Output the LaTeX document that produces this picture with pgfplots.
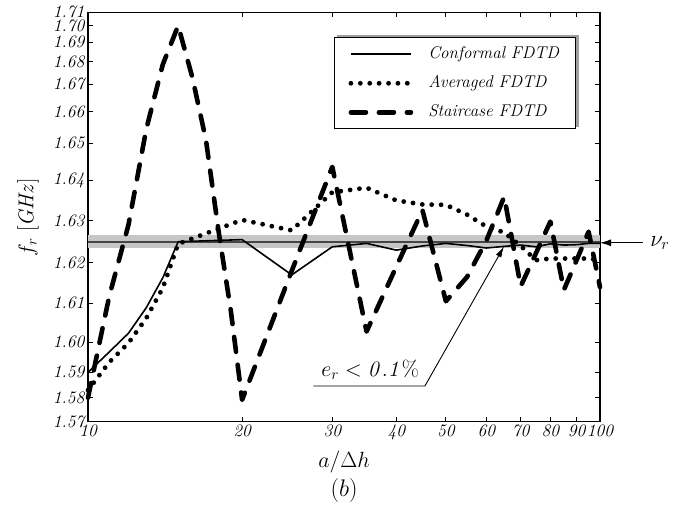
\RequirePackage{fix-cm}
\documentclass[border=0pt]{standalone}
\usepackage{pgfplots}
\pgfplotsset{compat=1.18}
\usetikzlibrary{arrows.meta}
\pgfdeclarelayer{background}
\pgfsetlayers{background,main}

% piecewise-linear y scale read from the reference tick positions
\newcommand\ytrafo[1]{%
  \begingroup
  \pgfkeys{/pgf/fpu=true,/pgf/fpu/output format=fixed}%
  \pgfmathparse{#1}\let\myV\pgfmathresult
  \pgfkeys{/pgf/fpu=false}%
  \pgfmathsetmacro\myU{(\myV-1.57)*100}%
  \pgfmathtruncatemacro\myI{min(13,max(0,floor(\myU)))}%
  \pgfmathtruncatemacro\myJ{\myI+1}%
  \pgfmathsetmacro\myA{{0,24,49.4,79.7,118.4,159,201,241.7,278.4,310,337.4,360,379.4,396,409.4}[\myI]}%
  \pgfmathsetmacro\myB{{0,24,49.4,79.7,118.4,159,201,241.7,278.4,310,337.4,360,379.4,396,409.4}[\myJ]}%
  \pgfmathsetmacro\myR{\myA+(\myU-\myI)*(\myB-\myA)}%
  \xdef\ytrafores{\myR}%
  \endgroup
  \let\pgfmathresult\ytrafores}

\begin{document}
\begin{tikzpicture}
\begin{axis}[
  scale only axis, width=512pt, height=409.4pt,
  xmode=log, xmin=10, xmax=100,
  ymin=1.57, ymax=1.71,
  y coord trafo/.code={\ytrafo{#1}},
  axis line style={line width=1.1pt},
  tick style={line width=0.9pt, black},
  major tick length=5pt,
  xminorticks=false,
  xtick={10,20,30,40,50,60,70,80,90,100},
  xticklabels={10,20,30,40,50,60,70,80,90,100},
  ytick={1.57,1.58,1.59,1.60,1.61,1.62,1.63,1.64,1.65,1.66,1.67,1.68,1.69,1.70,1.71},
  yticklabels={1.57,1.58,1.59,1.60,1.61,1.62,1.63,1.64,1.65,1.66,1.67,1.68,1.69,1.70,1.71},
  ticklabel style={font=\fontsize{17.5}{20}\selectfont\itshape},
  xlabel={$a/\Delta h$},
  ylabel={$f_r\ [\mathit{GHz}]$},
  xlabel style={font=\fontsize{22}{26}\selectfont, at={(axis description cs:0.5,-0.098)}, anchor=center},
  ylabel style={font=\fontsize{21.5}{25}\selectfont, at={(axis description cs:-0.117,0.5)}, anchor=center},
  clip=false,
  legend style={name=leg, at={(axis description cs:0.4805,0.939)}, anchor=north west,
    draw=black, line width=1pt, fill=white,
    font=\fontsize{17}{20}\selectfont\itshape,
    inner xsep=14pt, inner ysep=5pt, row sep=6pt, column sep=12pt,
    nodes={inner sep=3pt, text height=12.5pt, text depth=4.5pt}},
  legend cell align=left,
  legend image code/.code={\draw[#1] (0pt,0pt) -- (60pt,0pt);},
]
% reference band and line
\addplot[fill=gray!45, draw=none, forget plot] coordinates {(10,1.6234) (100,1.6234) (100,1.6266) (10,1.6266)} -- cycle;
\addplot[gray!55!black, line width=1.8pt, forget plot] coordinates {(10,1.625) (100,1.625)};

\addplot[black, line width=1.6pt, line join=round] coordinates {
(10,1.5900)(11,1.5967)(12,1.6023)(13,1.6089)(14,1.6163)(15,1.6250)(20,1.6255)(25,1.6170)
(30,1.6238)(35,1.6246)(40,1.6230)(45,1.6240)(50,1.6246)(55,1.6241)(60,1.6235)(65,1.6239)
(70,1.6242)(75,1.6238)(80,1.6245)(85,1.6242)(90,1.6243)(95,1.6246)(100,1.6246)};
\addlegendentry{Conformal FDTD}

\addplot[black, line width=4.8pt, line cap=round, line join=round, dash pattern=on 0pt off 9.4pt] coordinates {
(10,1.5830)(11,1.5933)(12,1.5997)(13,1.6062)(14,1.6138)(15,1.6245)(20,1.6302)(25,1.6277)
(30,1.6370)(35,1.6381)(40,1.6350)(45,1.6340)(50,1.6339)(55,1.6315)(60,1.6286)(65,1.6272)
(70,1.6240)(75,1.6206)(80,1.6210)(85,1.6210)(90,1.6210)(95,1.6210)(100,1.6206)};
\addlegendentry{Averaged FDTD}

\addplot[black, line width=4.6pt, line cap=round, line join=round, dash pattern=on 15pt off 13pt] coordinates {
(10,1.5800)(11,1.6117)(12,1.6291)(13,1.6546)(14,1.6788)(15,1.7000)(16,1.6728)(17,1.6510)
(18,1.6273)(19,1.6083)(20,1.5791)(25,1.6180)(30,1.6436)(35,1.6027)(40,1.6190)(45,1.6326)
(50,1.6105)(55,1.6165)(60,1.6253)(65,1.6359)(70,1.6142)(75,1.6223)(80,1.6298)(85,1.6133)
(90,1.6206)(95,1.6274)(100,1.6140)};
\addlegendentry{Staircase FDTD}

% annotations
\draw[-{Latex[length=11pt,width=7pt]}, line width=1pt] (axis description cs:1.084,0.437) -- (axis description cs:1.0,0.437);
\node[anchor=center, font=\fontsize{23}{27}\selectfont] at (axis description cs:1.117,0.437) {$\nu_r$};
\draw[-{Latex[length=11pt,width=6pt]}, line width=0.9pt] (axis description cs:0.440,0.0872) -- (axis description cs:0.658,0.0872) -- (axis description cs:0.8125,0.428);
\node[anchor=base, font=\fontsize{22}{26}\selectfont] at (axis description cs:0.551,0.110) {$e_r < \mathit{0.1\%}$};
\node[anchor=center, font=\fontsize{24}{28}\selectfont] at (axis description cs:0.5,-0.167) {$(b)$};
\coordinate (O) at (axis description cs:0,0);
\end{axis}
\begin{pgfonlayer}{background}
\fill[gray!75] ([shift={(2.5pt,2.5pt)}]leg.south west) rectangle ([shift={(2.5pt,2.5pt)}]leg.north east);
\end{pgfonlayer}
\pgfresetboundingbox
\path (O) ++(-88pt,-82.3pt) rectangle ++(687pt,504pt);
\end{tikzpicture}
\end{document}
